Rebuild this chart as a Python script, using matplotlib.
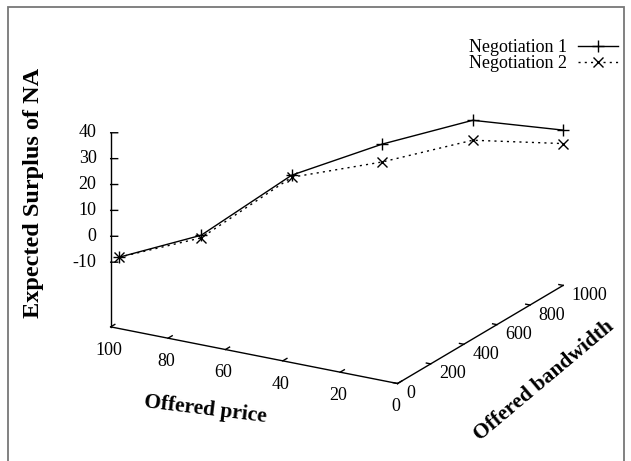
import matplotlib
matplotlib.use("Agg")
import matplotlib.pyplot as plt
from matplotlib.patches import Rectangle
from mpl_toolkits.mplot3d import proj3d

# Offered (price, bandwidth) pairs and the expected surplus for each negotiation
price = [100, 80, 60, 40, 20, 0]
bandwidth = [50, 200, 400, 600, 800, 1000]
surplus_neg1 = [-10.0, -2.8, 17.2, 26.0, 32.0, 25.0]
surplus_neg2 = [-10.0, -3.8, 16.4, 19.1, 24.3, 19.8]

series_labels = ["Negotiation 1", "Negotiation 2"]
price_ticks = [100, 80, 60, 40, 20, 0]
bw_ticks = [0, 200, 400, 600, 800, 1000]
z_ticks = [-10, 0, 10, 20, 30, 40]

plt.rcParams["font.family"] = ["Liberation Serif", "DejaVu Serif"]

W, H = 631, 461
fig = plt.figure(figsize=(W / 100, H / 100), dpi=100)
fig.patch.set_facecolor("white")

S = 497  # side of the square 3D viewport, pixels
ax = fig.add_axes([81.7 / W, -3.3 / H, S / W, S / H], projection="3d",
                  proj_type="ortho")
ax.view_init(elev=20, azim=-60)
ax.set_box_aspect((1, 1, 0.6236))

zmin, zmax = -10, 40
zbase = zmin - 0.5 * (zmax - zmin)   # floor of the box sits below zmin
ax.set_xlim(100, 0)
ax.set_ylim(0, 1000)
ax.set_zlim(zbase, zmax)
ax.set_axis_off()

lw_axis = 1.0
tick_fs = 13

fig.canvas.draw()


def label3d(x, y, z, s, **kw):
    """Put a flat 2D label at the screen position of a 3D point."""
    px, py, _ = proj3d.proj_transform(x, y, z, ax.get_proj())
    dx, dy = ax.transData.transform((px, py))
    fx, fy = fig.transFigure.inverted().transform((dx, dy))
    fig.text(fx, fy, s, **kw)


# base axes
ax.plot([100, 0], [0, 0], [zbase, zbase], color="black", lw=lw_axis)
ax.plot([0, 0], [0, 1000], [zbase, zbase], color="black", lw=lw_axis)
ax.plot([100, 100], [0, 0], [zbase, zmax], color="black", lw=lw_axis)

# price ticks (pointing along the bandwidth direction)
for p in price_ticks:
    ax.plot([p, p], [0, 25], [zbase, zbase], color="black", lw=lw_axis)
    label3d(p + 0.7, 0, zbase - 9.1, str(p), ha="center", va="center",
            fontsize=tick_fs)

# bandwidth ticks (pointing along the price direction)
for b in bw_ticks:
    ax.plot([0, 1.5], [b, b], [zbase, zbase], color="black", lw=lw_axis)
    label3d(-3.0, b, zbase - 3.2, str(b), ha="left", va="center",
            fontsize=tick_fs)

# vertical axis ticks
for z in z_ticks:
    ax.plot([100, 100 - 1.83], [0, 10.6], [z, z], color="black", lw=lw_axis)
    label3d(103.7, -21, z, str(z), ha="right", va="center", fontsize=tick_fs)

# data series
l1, = ax.plot(price, bandwidth, surplus_neg1, color="black", lw=1.0,
              marker="+", ms=9, mew=1.0)
l2, = ax.plot(price, bandwidth, surplus_neg2, color="black", lw=1.0,
              ls=(0, (1.5, 3)), marker="x", ms=6.5, mew=1.0)

fig.legend([l1, l2], series_labels, loc="upper right",
           bbox_to_anchor=(618 / W, 1 - 39 / H), frameon=False,
           markerfirst=False, handlelength=2.2, handletextpad=0.6,
           labelspacing=-0.05, fontsize=13, borderpad=0, borderaxespad=0)

# axis titles
fig.text(34 / W, 1 - 193 / H, "Expected Surplus of NA", rotation=90,
         ha="center", va="center", fontsize=17.5, fontweight="bold")
fig.text(205 / W, 1 - 410 / H, "Offered price", rotation=-7,
         rotation_mode="anchor", ha="center", va="center", fontsize=15.5,
         fontweight="bold")
fig.text(544 / W, 1 - 381 / H, "Offered bandwidth", rotation=40,
         rotation_mode="anchor", ha="center", va="center", fontsize=15.5,
         fontweight="bold")

# page frame
fig.add_artist(Rectangle((7.5 / W, -0.1), (624 - 7.5) / W, 1.1 - 7.5 / H,
                         transform=fig.transFigure, fill=False,
                         ec="#777777", lw=1.3))

fig.savefig("out.png", dpi=100)
